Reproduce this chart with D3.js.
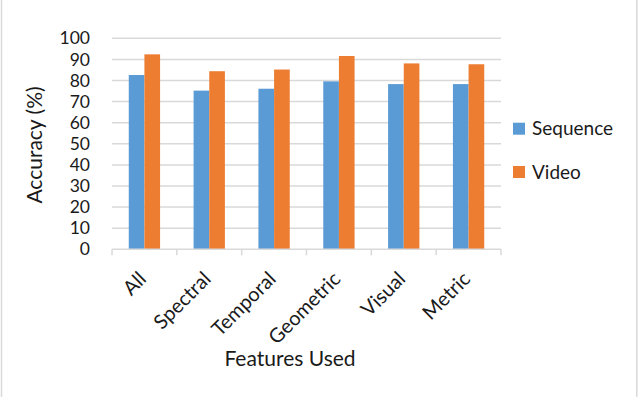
<!DOCTYPE html>
<html>
<head>
<meta charset="utf-8">
<script src="https://cdn.jsdelivr.net/npm/d3@7"></script>
<style>
  body { margin: 0; background: #fff; }
  svg { font-family: Lato, "Open Sans", sans-serif; }
</style>
</head>
<body>
<svg width="640" height="397"></svg>
<script>
const categories = ["All", "Spectral", "Temporal", "Geometric", "Visual", "Metric"];
const seriesNames = ["Sequence", "Video"];
const sequence = [82.6, 75.2, 76.1, 79.6, 78.3, 78.3];
const video = [92.4, 84.4, 85.2, 91.6, 88.1, 87.7];
const yTicks = [0, 10, 20, 30, 40, 50, 60, 70, 80, 90, 100];
const colors = ["#5b9bd5", "#ed7d31"];

const data = categories.map((c, i) => ({ cat: c, values: [sequence[i], video[i]] }));

const svg = d3.select("svg");

// outer chart border
svg.append("line").attr("x1", 1.5).attr("x2", 1.5).attr("y1", 0).attr("y2", 397)
    .attr("stroke", "#d9d9d9").attr("stroke-width", 1.5);
svg.append("line").attr("x1", 636.8).attr("x2", 636.8).attr("y1", 0).attr("y2", 397)
    .attr("stroke", "#d9d9d9").attr("stroke-width", 1.5);

const plotLeft = 112, plotRight = 501, plotTop = 38.3, plotBottom = 249.3;

let x = d3.scaleBand().domain(categories).range([plotLeft, plotRight])
    .paddingInner(0.517).paddingOuter(0.2585);
let xs = d3.scaleBand().domain(seriesNames).range([0, x.bandwidth()]);
let y = d3.scaleLinear().domain([0, 100]).range([plotBottom, plotTop]);

// gridlines
svg.append("g")
    .selectAll("line")
    .data(yTicks.filter(d => d > 0))
    .enter()
    .append("line")
    .attr("x1", plotLeft).attr("x2", plotRight)
    .attr("y1", d => y(d)).attr("y2", d => y(d))
    .attr("stroke", "#d9d9d9").attr("stroke-width", 1.5);

// bars
svg.append("g")
    .selectAll("g")
    .data(data)
    .enter()
    .append("g")
    .attr("transform", d => "translate(" + x(d.cat) + ",0)")
    .selectAll("rect")
    .data(d => d.values.map((v, i) => ({ name: seriesNames[i], v: v, i: i })))
    .enter()
    .append("rect")
    .attr("x", d => xs(d.name))
    .attr("width", xs.bandwidth())
    .attr("y", d => y(d.v))
    .attr("height", d => y(0) - y(d.v))
    .attr("fill", d => colors[d.i]);

// x axis
const xAxis = svg.append("g")
    .attr("transform", "translate(0," + plotBottom + ")");
xAxis.append("line").attr("x1", plotLeft).attr("x2", plotRight).attr("y1", 0).attr("y2", 0)
    .attr("stroke", "#d9d9d9").attr("stroke-width", 1.5);
xAxis.selectAll(".tk")
    .data(d3.range(categories.length + 1))
    .enter()
    .append("line")
    .attr("x1", i => plotLeft + i * x.step()).attr("x2", i => plotLeft + i * x.step())
    .attr("y1", 0).attr("y2", 6)
    .attr("stroke", "#d9d9d9").attr("stroke-width", 1.5);

xAxis.selectAll("text")
    .data(categories)
    .enter()
    .append("text")
    .attr("transform", d => "translate(" + (x(d) + x.bandwidth() / 2 - 2) + ",26) rotate(-45)")
    .attr("text-anchor", "end")
    .attr("dy", "0.35em")
    .attr("font-size", 20)
    .attr("fill", "#1a1a1a")
    .text(d => d);

// y axis labels
svg.append("g")
    .selectAll("text")
    .data(yTicks)
    .enter()
    .append("text")
    .attr("x", 90)
    .attr("y", d => y(d))
    .attr("dy", "0.35em")
    .attr("text-anchor", "end")
    .attr("font-size", 17.5)
    .attr("fill", "#1a1a1a")
    .text(d => d);

// axis titles
svg.append("text")
    .attr("transform", "translate(42,145) rotate(-90)")
    .attr("text-anchor", "middle")
    .attr("font-size", 21)
    .attr("fill", "#1a1a1a")
    .text("Accuracy (%)");

svg.append("text")
    .attr("x", 290)
    .attr("y", 366)
    .attr("text-anchor", "middle")
    .attr("font-size", 21)
    .attr("fill", "#1a1a1a")
    .text("Features Used");

// legend
const legend = svg.append("g")
    .selectAll("g")
    .data(seriesNames)
    .enter()
    .append("g")
    .attr("transform", (d, i) => "translate(513," + (122.7 + i * 43.3) + ")");
legend.append("rect")
    .attr("width", 12).attr("height", 12)
    .attr("fill", (d, i) => colors[i]);
legend.append("text")
    .attr("x", 19).attr("y", 6)
    .attr("dy", "0.35em")
    .attr("font-size", 19)
    .attr("fill", "#1a1a1a")
    .text(d => d);
</script>
</body>
</html>
